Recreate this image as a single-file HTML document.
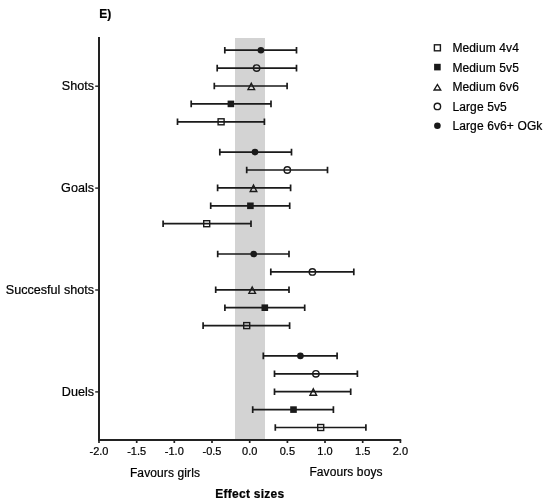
<!DOCTYPE html>
<html><head><meta charset="utf-8"><style>
html,body{margin:0;padding:0;background:#fff;}
body{width:550px;height:504px;overflow:hidden;}
svg{display:block;will-change:transform;font-family:"Liberation Sans",sans-serif;fill:#1a1a1a;}
text{fill:#000;stroke:#000;stroke-width:0.22px;}
</style></head><body>
<svg width="550" height="504" viewBox="0 0 550 504">
<rect x="235" y="38" width="30" height="401" fill="#d3d3d3"/>
<path d="M224.8,50.2H296.5M224.8,46.9V53.5M296.5,46.9V53.5" stroke="#1a1a1a" stroke-width="1.7" fill="none"/>
<circle cx="260.9" cy="50.2" r="3.3" fill="#1a1a1a"/>
<path d="M217.2,68.1H296.5M217.2,64.8V71.4M296.5,64.8V71.4" stroke="#1a1a1a" stroke-width="1.7" fill="none"/>
<circle cx="256.6" cy="68.1" r="3.2" fill="none" stroke="#1a1a1a" stroke-width="1.4"/>
<path d="M214.3,86.0H287.1M214.3,82.7V89.3M287.1,82.7V89.3" stroke="#1a1a1a" stroke-width="1.7" fill="none"/>
<path d="M251.3,83.2 L254.6,89.6 L248.0,89.6 Z" fill="none" stroke="#1a1a1a" stroke-width="1.4" stroke-linejoin="miter"/>
<path d="M191.2,103.9H271.0M191.2,100.6V107.2M271.0,100.6V107.2" stroke="#1a1a1a" stroke-width="1.7" fill="none"/>
<rect x="227.6" y="100.6" width="6.6" height="6.6" fill="#1a1a1a"/>
<path d="M177.5,121.8H264.4M177.5,118.5V125.1M264.4,118.5V125.1" stroke="#1a1a1a" stroke-width="1.7" fill="none"/>
<rect x="218.1" y="118.8" width="6.0" height="6.0" fill="none" stroke="#1a1a1a" stroke-width="1.4"/>
<path d="M219.8,152.1H291.5M219.8,148.8V155.4M291.5,148.8V155.4" stroke="#1a1a1a" stroke-width="1.7" fill="none"/>
<circle cx="255.0" cy="152.1" r="3.3" fill="#1a1a1a"/>
<path d="M246.7,170.0H327.5M246.7,166.7V173.3M327.5,166.7V173.3" stroke="#1a1a1a" stroke-width="1.7" fill="none"/>
<circle cx="287.3" cy="170.0" r="3.2" fill="none" stroke="#1a1a1a" stroke-width="1.4"/>
<path d="M217.6,187.9H290.6M217.6,184.6V191.2M290.6,184.6V191.2" stroke="#1a1a1a" stroke-width="1.7" fill="none"/>
<path d="M253.5,185.1 L256.8,191.5 L250.2,191.5 Z" fill="none" stroke="#1a1a1a" stroke-width="1.4" stroke-linejoin="miter"/>
<path d="M210.7,205.8H289.7M210.7,202.5V209.1M289.7,202.5V209.1" stroke="#1a1a1a" stroke-width="1.7" fill="none"/>
<rect x="247.1" y="202.5" width="6.6" height="6.6" fill="#1a1a1a"/>
<path d="M163.1,223.7H251.0M163.1,220.4V227.0M251.0,220.4V227.0" stroke="#1a1a1a" stroke-width="1.7" fill="none"/>
<rect x="203.7" y="220.7" width="6.0" height="6.0" fill="none" stroke="#1a1a1a" stroke-width="1.4"/>
<path d="M217.7,254.0H289.0M217.7,250.7V257.3M289.0,250.7V257.3" stroke="#1a1a1a" stroke-width="1.7" fill="none"/>
<circle cx="253.7" cy="254.0" r="3.3" fill="#1a1a1a"/>
<path d="M270.8,271.9H353.8M270.8,268.6V275.2M353.8,268.6V275.2" stroke="#1a1a1a" stroke-width="1.7" fill="none"/>
<circle cx="312.4" cy="271.9" r="3.2" fill="none" stroke="#1a1a1a" stroke-width="1.4"/>
<path d="M215.7,289.8H289.0M215.7,286.5V293.1M289.0,286.5V293.1" stroke="#1a1a1a" stroke-width="1.7" fill="none"/>
<path d="M252.2,287.0 L255.5,293.4 L248.9,293.4 Z" fill="none" stroke="#1a1a1a" stroke-width="1.4" stroke-linejoin="miter"/>
<path d="M224.9,307.7H304.7M224.9,304.4V311.0M304.7,304.4V311.0" stroke="#1a1a1a" stroke-width="1.7" fill="none"/>
<rect x="261.5" y="304.4" width="6.6" height="6.6" fill="#1a1a1a"/>
<path d="M203.1,325.6H289.6M203.1,322.3V328.9M289.6,322.3V328.9" stroke="#1a1a1a" stroke-width="1.7" fill="none"/>
<rect x="243.7" y="322.6" width="6.0" height="6.0" fill="none" stroke="#1a1a1a" stroke-width="1.4"/>
<path d="M263.3,355.9H337.1M263.3,352.6V359.2M337.1,352.6V359.2" stroke="#1a1a1a" stroke-width="1.7" fill="none"/>
<circle cx="300.4" cy="355.9" r="3.3" fill="#1a1a1a"/>
<path d="M274.5,373.8H357.4M274.5,370.5V377.1M357.4,370.5V377.1" stroke="#1a1a1a" stroke-width="1.7" fill="none"/>
<circle cx="315.9" cy="373.8" r="3.2" fill="none" stroke="#1a1a1a" stroke-width="1.4"/>
<path d="M274.5,391.7H350.7M274.5,388.4V395.0M350.7,388.4V395.0" stroke="#1a1a1a" stroke-width="1.7" fill="none"/>
<path d="M313.3,388.9 L316.6,395.3 L310.0,395.3 Z" fill="none" stroke="#1a1a1a" stroke-width="1.4" stroke-linejoin="miter"/>
<path d="M252.7,409.6H333.4M252.7,406.3V412.9M333.4,406.3V412.9" stroke="#1a1a1a" stroke-width="1.7" fill="none"/>
<rect x="290.2" y="406.3" width="6.6" height="6.6" fill="#1a1a1a"/>
<path d="M275.3,427.5H365.9M275.3,424.2V430.8M365.9,424.2V430.8" stroke="#1a1a1a" stroke-width="1.7" fill="none"/>
<rect x="317.7" y="424.5" width="6.0" height="6.0" fill="none" stroke="#1a1a1a" stroke-width="1.4"/>
<path d="M99,37V440" stroke="#222" stroke-width="2" fill="none"/>
<path d="M98,440H401.2" stroke="#222" stroke-width="1.8" fill="none"/>
<path d="M99.0,440V443" stroke="#222" stroke-width="1.7"/>
<text x="99.0" y="454.6" font-size="11" text-anchor="middle">-2.0</text>
<path d="M136.7,440V443" stroke="#222" stroke-width="1.7"/>
<text x="136.7" y="454.6" font-size="11" text-anchor="middle">-1.5</text>
<path d="M174.3,440V443" stroke="#222" stroke-width="1.7"/>
<text x="174.3" y="454.6" font-size="11" text-anchor="middle">-1.0</text>
<path d="M212.0,440V443" stroke="#222" stroke-width="1.7"/>
<text x="212.0" y="454.6" font-size="11" text-anchor="middle">-0.5</text>
<path d="M249.7,440V443" stroke="#222" stroke-width="1.7"/>
<text x="249.7" y="454.6" font-size="11" text-anchor="middle">0.0</text>
<path d="M287.4,440V443" stroke="#222" stroke-width="1.7"/>
<text x="287.4" y="454.6" font-size="11" text-anchor="middle">0.5</text>
<path d="M325.0,440V443" stroke="#222" stroke-width="1.7"/>
<text x="325.0" y="454.6" font-size="11" text-anchor="middle">1.0</text>
<path d="M362.7,440V443" stroke="#222" stroke-width="1.7"/>
<text x="362.7" y="454.6" font-size="11" text-anchor="middle">1.5</text>
<path d="M400.4,440V443" stroke="#222" stroke-width="1.7"/>
<text x="400.4" y="454.6" font-size="11" text-anchor="middle">2.0</text>
<path d="M95.2,86.2H98" stroke="#222" stroke-width="1.4"/>
<text x="94.00" y="90.0" font-size="12.6" text-anchor="end" letter-spacing="0.0">Shots</text>
<path d="M95.2,188.1H98" stroke="#222" stroke-width="1.4"/>
<text x="94.00" y="191.9" font-size="12.6" text-anchor="end" letter-spacing="0.0">Goals</text>
<path d="M95.2,290.0H98" stroke="#222" stroke-width="1.4"/>
<text x="94.00" y="293.8" font-size="12.6" text-anchor="end" letter-spacing="0.0">Succesful shots</text>
<path d="M95.2,391.9H98" stroke="#222" stroke-width="1.4"/>
<text x="94.00" y="395.7" font-size="12.6" text-anchor="end" letter-spacing="0.0">Duels</text>
<text x="99.2" y="17.6" font-size="12" font-weight="bold">E)</text>
<text x="129.9" y="476.6" font-size="12" letter-spacing="0.12">Favours girls</text>
<text x="309.4" y="476.2" font-size="12" letter-spacing="0.1">Favours boys</text>
<text x="215.3" y="497.6" font-size="12" font-weight="bold" letter-spacing="0.26">Effect sizes</text>
<rect x="434.4" y="44.8" width="6.0" height="6.0" fill="none" stroke="#1a1a1a" stroke-width="1.4"/>
<text x="452.4" y="52.4" font-size="12" letter-spacing="0.12">Medium 4v4</text>
<rect x="434.1" y="63.8" width="6.6" height="6.6" fill="#1a1a1a"/>
<text x="452.4" y="71.7" font-size="12" letter-spacing="0.12">Medium 5v5</text>
<path d="M437.4,84.5 L440.7,90.0 L434.1,90.0 Z" fill="none" stroke="#1a1a1a" stroke-width="1.4" stroke-linejoin="miter"/>
<text x="452.4" y="91.3" font-size="12" letter-spacing="0.12">Medium 6v6</text>
<circle cx="437.4" cy="106.4" r="3.2" fill="none" stroke="#1a1a1a" stroke-width="1.4"/>
<text x="452.4" y="111.0" font-size="12" letter-spacing="0.12">Large 5v5</text>
<circle cx="437.4" cy="125.8" r="3.3" fill="#1a1a1a"/>
<text x="452.4" y="130.4" font-size="12" letter-spacing="0.12">Large 6v6+ OGk</text>
</svg>
</body></html>
